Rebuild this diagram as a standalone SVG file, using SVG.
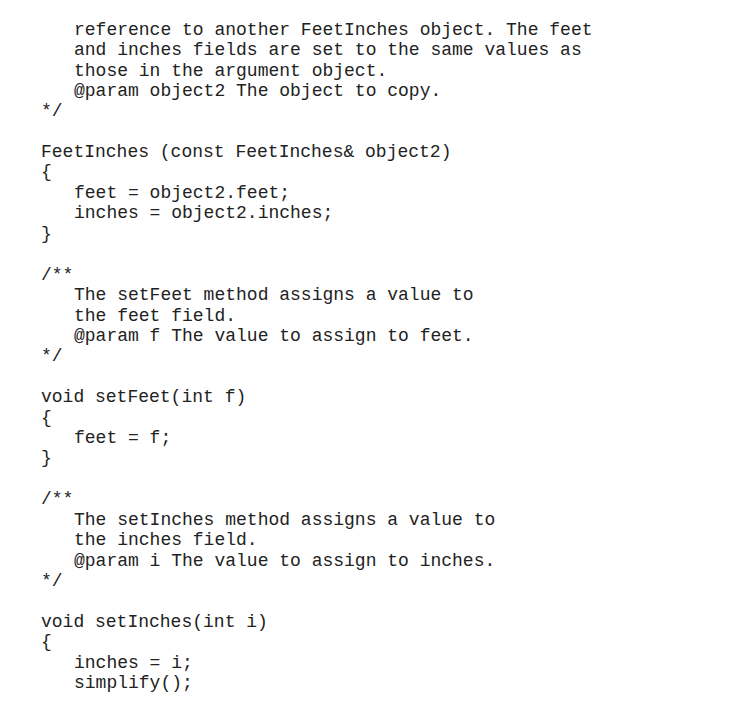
<svg xmlns="http://www.w3.org/2000/svg" width="753" height="711" viewBox="0 0 753 711">
<style>text{font-family:"Liberation Mono","DejaVu Sans Mono",monospace;font-size:18px;fill:#222}</style>
<rect width="753" height="711" fill="#fff"/>
<g id="code">
<text x="74" y="35">reference to another FeetInches object. The feet</text>
<text x="74" y="55">and inches fields are set to the same values as</text>
<text x="74" y="76">those in the argument object.</text>
<text x="74" y="96">@param object2 The object to copy.</text>
<text x="41" y="116">*/</text>
<text x="41" y="157">FeetInches (const FeetInches&amp; object2)</text>
<text x="41" y="177">{</text>
<text x="74" y="198">feet = object2.feet;</text>
<text x="74" y="218">inches = object2.inches;</text>
<text x="41" y="239">}</text>
<text x="41" y="280">/**</text>
<text x="74" y="300">The setFeet method assigns a value to</text>
<text x="74" y="321">the feet field.</text>
<text x="74" y="341">@param f The value to assign to feet.</text>
<text x="41" y="361">*/</text>
<text x="41" y="402">void setFeet(int f)</text>
<text x="41" y="423">{</text>
<text x="74" y="443">feet = f;</text>
<text x="41" y="463">}</text>
<text x="41" y="504">/**</text>
<text x="74" y="525">The setInches method assigns a value to</text>
<text x="74" y="545">the inches field.</text>
<text x="74" y="566">@param i The value to assign to inches.</text>
<text x="41" y="586">*/</text>
<text x="41" y="627">void setInches(int i)</text>
<text x="41" y="647">{</text>
<text x="74" y="668">inches = i;</text>
<text x="74" y="688">simplify();</text>
</g>
</svg>
